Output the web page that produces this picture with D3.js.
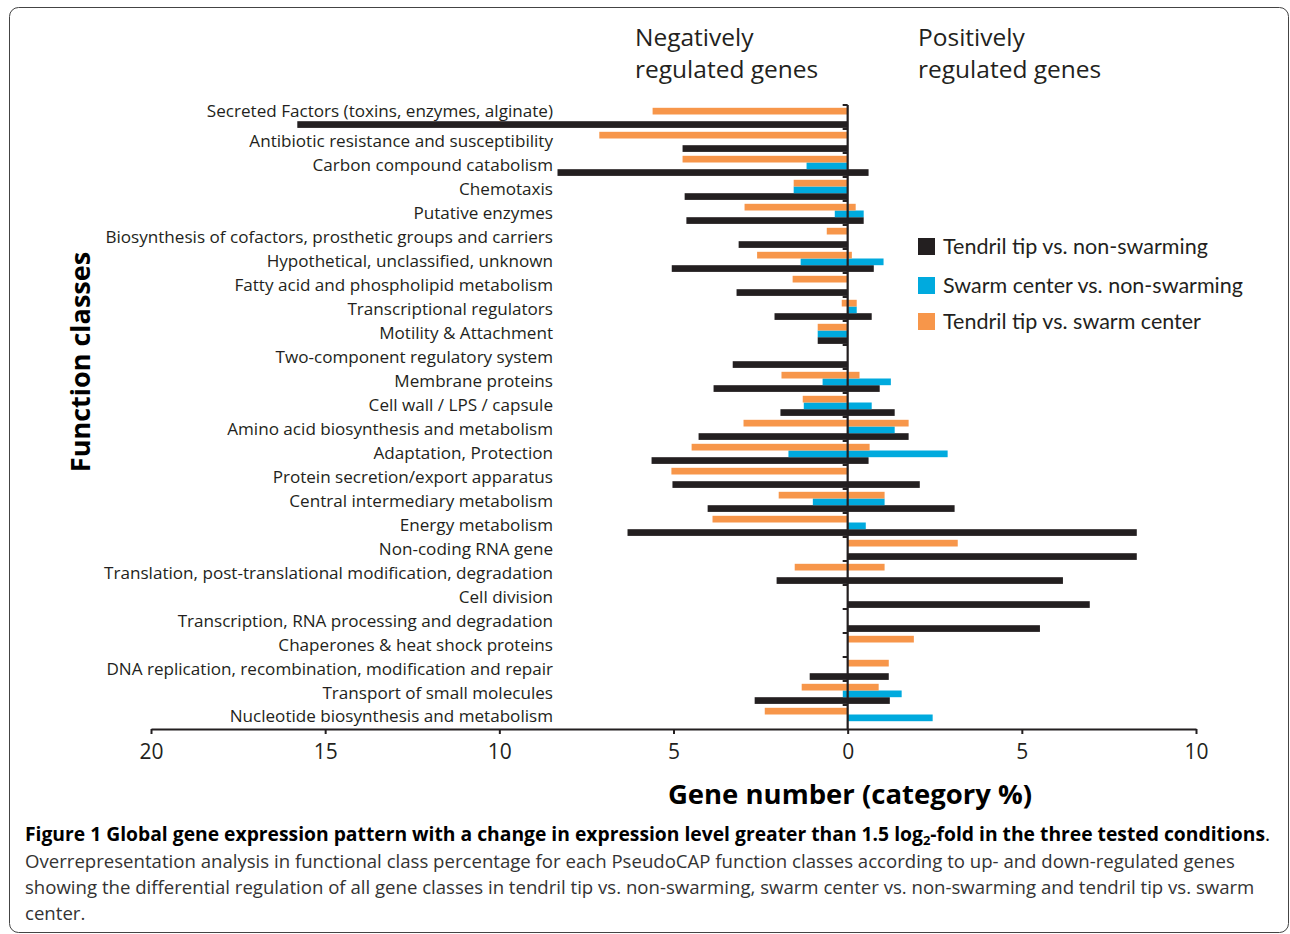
<!DOCTYPE html>
<html>
<head>
<meta charset="utf-8">
<script src="https://cdn.jsdelivr.net/npm/d3@7"></script>
<style>
  body { margin: 0; background: #fff; }
  svg { display: block; }
  text { font-family: "Open Sans", Lato, sans-serif; fill: #231f20; }
  .legend text { font-family: Lato, sans-serif; }
</style>
</head>
<body>
<svg id="chart" width="1290" height="934"></svg>
<script>
/*------------------------
  ------ VARIABLES -------
  ------------------------*/

// function classes, top to bottom
var categories = [
    "Secreted Factors (toxins, enzymes, alginate)",
    "Antibiotic resistance and susceptibility",
    "Carbon compound catabolism",
    "Chemotaxis",
    "Putative enzymes",
    "Biosynthesis of cofactors, prosthetic groups and carriers",
    "Hypothetical, unclassified, unknown",
    "Fatty acid and phospholipid metabolism",
    "Transcriptional regulators",
    "Motility & Attachment",
    "Two-component regulatory system",
    "Membrane proteins",
    "Cell wall / LPS / capsule",
    "Amino acid biosynthesis and metabolism",
    "Adaptation, Protection",
    "Protein secretion/export apparatus",
    "Central intermediary metabolism",
    "Energy metabolism",
    "Non-coding RNA gene",
    "Translation, post-translational  modification, degradation",
    "Cell division",
    "Transcription, RNA processing and degradation",
    "Chaperones & heat shock proteins",
    "DNA replication, recombination, modification and repair",
    "Transport of small molecules",
    "Nucleotide biosynthesis and metabolism"
];

// series names (legend order) and colours
var series = ["Tendril tip vs. non-swarming", "Swarm center vs. non-swarming", "Tendril tip vs. swarm center"];
var colors = ["#231f20", "#00aade", "#f7964a"];
// order of the bars inside one class, top to bottom
var bar_order = [2, 1, 0];

// down-regulated (negative) and up-regulated (positive), category %
var tip_non_neg = [-15.8, -4.74, -8.33, -4.68, -4.63, -3.13, -5.05, -3.19, -2.1, -0.86, -3.3, -3.85, -1.93,
                   -4.28, -5.63, -5.03, -4.02, -6.32, 0, -2.04, 0, 0, 0, -1.09, -2.67, 0];
var tip_non_pos = [0, 0, 0.6, 0, 0.46, 0, 0.75, 0, 0.69, 0, 0, 0.92, 1.35,
                   1.75, 0.6, 2.07, 3.07, 8.3, 8.3, 6.18, 6.95, 5.52, 0, 1.18, 1.21, 0];
var center_non_neg = [0, 0, -1.18, -1.55, -0.37, 0, -1.35, 0, 0, -0.86, 0, -0.72, -1.26,
                      0, -1.7, 0, -1.0, 0, 0, 0, 0, 0, 0, 0, -0.14, 0];
var center_non_pos = [0, 0, 0, 0, 0.46, 0, 1.03, 0, 0.26, 0, 0, 1.24, 0.69,
                      1.35, 2.87, 0, 1.06, 0.52, 0, 0, 0, 0, 0, 0, 1.55, 2.44];
var tip_center_neg = [-5.6, -7.13, -4.74, -1.55, -2.96, -0.6, -2.6, -1.58, -0.17, -0.86, 0, -1.9, -1.29,
                      -2.99, -4.48, -5.06, -1.98, -3.88, 0, -1.52, 0, 0, 0, 0, -1.32, -2.38];
var tip_center_pos = [0, 0, 0, 0, 0.23, 0, 0.12, 0, 0.26, 0, 0, 0.34, 0,
                      1.75, 0.63, 0, 1.06, 0, 3.16, 1.06, 0, 0, 1.9, 1.18, 0.89, 0];

var x_ticks = [-20, -15, -10, -5, 0, 5, 10];

// display
var plot = {left: 151, right: 1196, top: 105, bot: 729};
var bar_h = 6.7;

/*------------------------
  ------ BUILD DATA ------
  ------------------------*/

var neg_vals = [tip_non_neg, center_non_neg, tip_center_neg];
var pos_vals = [tip_non_pos, center_non_pos, tip_center_pos];

var bars = [];
categories.forEach(function(c, i) {
    for (var s = 0; s < series.length; s++) {
        var lo = neg_vals[s][i], hi = pos_vals[s][i];
        if (lo === 0 && hi === 0) continue;
        bars.push({cat: c, s: s, lo: lo, hi: hi});
    }
});

/*------------------------
  ------- SCALES ---------
  ------------------------*/

var svg = d3.select("#chart");

var x = d3.scaleLinear().domain([-20, 10]).range([plot.left, plot.right]);
var y = d3.scaleBand().domain(categories).range([plot.top, plot.bot]);
var y_in = d3.scaleBand().domain(bar_order).range([2.8, 2.8 + 3 * bar_h]);
var y_lab = d3.scalePoint().domain(categories).range([117.5, 716.5]);

/*------------------------
  ------- DRAWING --------
  ------------------------*/

// frame
svg.append("rect")
    .attr("x", 9.5).attr("y", 7.5)
    .attr("width", 1279).attr("height", 925)
    .attr("rx", 9)
    .attr("fill", "none")
    .attr("stroke", "#444")
    .attr("stroke-width", 1);

// bars
svg.append("g").selectAll("rect")
    .data(bars)
    .enter()
    .append("rect")
    .attr("x", function(d) { return x(d.lo); })
    .attr("y", function(d) { return y(d.cat) + y_in(d.s); })
    .attr("width", function(d) { return x(d.hi) - x(d.lo); })
    .attr("height", bar_h)
    .attr("fill", function(d) { return colors[d.s]; });

// vertical axis at zero, with ticks between classes
var y_axis = svg.append("g").attr("class", "y-axis");
y_axis.append("line")
    .attr("x1", x(0)).attr("x2", x(0))
    .attr("y1", plot.top).attr("y2", plot.bot)
    .attr("stroke", "#231f20").attr("stroke-width", 2.2);
y_axis.selectAll(".tick")
    .data(categories)
    .enter()
    .append("line")
    .attr("x1", x(0) - 5).attr("x2", x(0))
    .attr("y1", function(c) { return y(c); })
    .attr("y2", function(c) { return y(c); })
    .attr("stroke", "#231f20").attr("stroke-width", 2);

// class labels
svg.append("g").selectAll("text")
    .data(categories)
    .enter()
    .append("text")
    .attr("x", 553)
    .attr("y", function(c, i) { return y_lab(c) - (i === 0 ? 6 : 0); })
    .attr("dy", "0.35em")
    .attr("text-anchor", "end")
    .attr("font-size", 17.1)
    .text(function(c) { return c; });

// x axis
var x_axis = svg.append("g")
    .attr("transform", "translate(0," + plot.bot + ")")
    .call(d3.axisBottom(x)
          .tickValues(x_ticks)
          .tickFormat(function(d) { return Math.abs(d); })
          .tickSize(5)
          .tickPadding(10)
          .tickSizeOuter(0));
x_axis.select(".domain").attr("stroke", "#231f20").attr("stroke-width", 2.2);
x_axis.selectAll(".tick line").attr("stroke", "#231f20").attr("stroke-width", 2);
x_axis.selectAll(".tick text")
    .attr("font-size", 21)
    .style("fill", "#231f20");

// axis titles
svg.append("text")
    .attr("transform", "translate(90,362) rotate(-90)")
    .attr("text-anchor", "middle")
    .attr("font-size", 27)
    .attr("font-weight", "bold")
    .style("fill", "#000")
    .text("Function classes");

svg.append("text")
    .attr("x", 850).attr("y", 804)
    .attr("text-anchor", "middle")
    .attr("font-size", 27.5)
    .attr("font-weight", "bold")
    .style("fill", "#000")
    .text("Gene number (category %)");

// direction headings
var headings = [{x: 635, lines: ["Negatively", "regulated genes"]},
                {x: 918, lines: ["Positively", "regulated genes"]}];
headings.forEach(function(h) {
    h.lines.forEach(function(l, j) {
        svg.append("text")
            .attr("x", h.x).attr("y", 46 + j * 32)
            .attr("font-size", 24.5)
            .text(l);
    });
});

// legend
var legend = svg.append("g").attr("class", "legend").attr("transform", "translate(918,238)");
var lg = legend.selectAll("g")
    .data(series)
    .enter()
    .append("g")
    .attr("transform", function(d, i) { return "translate(0," + [0, 39, 75][i] + ")"; });
lg.append("rect")
    .attr("width", 17).attr("height", 17)
    .attr("fill", function(d, i) { return colors[i]; });
lg.append("text")
    .attr("x", 25).attr("y", 8.5)
    .attr("dy", "0.35em")
    .attr("font-size", 21.5)
    .text(function(d) { return d; });

// caption
var cap = svg.append("g").attr("transform", "translate(25,0)");
var t1 = cap.append("text").attr("y", 841).attr("font-size", 19.3).style("fill", "#000");
t1.append("tspan").attr("font-weight", "bold")
    .text("Figure 1 Global gene expression pattern with a change in expression level greater than 1.5 log");
t1.append("tspan").attr("font-weight", "bold").attr("font-size", 13).attr("dy", 4).text("2");
t1.append("tspan").attr("font-weight", "bold").attr("dy", -4)
    .text("-fold in the three tested conditions");
t1.append("tspan").text(".");

var cap_lines = [
    "Overrepresentation analysis in functional class percentage for each PseudoCAP function classes according to up- and down-regulated genes",
    "showing the differential regulation of all gene classes in tendril tip vs. non-swarming, swarm center vs. non-swarming and tendril tip vs. swarm",
    "center."
];
cap.selectAll(".cl")
    .data(cap_lines)
    .enter()
    .append("text")
    .attr("class", "cl")
    .attr("y", function(d, i) { return 868 + i * 26; })
    .attr("font-size", 18.6)
    .style("fill", "#333")
    .text(function(d) { return d; });
</script>
</body>
</html>
